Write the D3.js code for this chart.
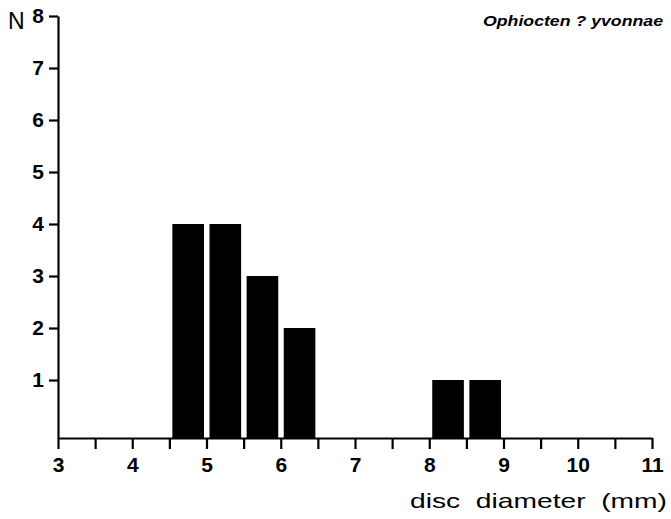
<!DOCTYPE html>
<html><head><meta charset="utf-8">
<script src="https://cdn.jsdelivr.net/npm/d3@7"></script>
<style>body{margin:0;background:#fff}svg{display:block}</style>
</head><body>
<script>
const binLow = [4.5, 5.0, 5.5, 6.0, 8.0, 8.5];
const binHigh = [5.0, 5.5, 6.0, 6.5, 8.5, 9.0];
const counts = [4, 4, 3, 2, 1, 1];
const xTickLabels = [3, 4, 5, 6, 7, 8, 9, 10, 11];
const xMinorTicks = d3.range(3, 11.01, 0.5);
const yTickLabels = [1, 2, 3, 4, 5, 6, 7, 8];
const title = "Ophiocten ? yvonnae";
const xTitle = "disc\u00a0\u00a0diameter\u00a0\u00a0(mm)";
const yTitle = "N";

const W = 671, H = 519;
const svg = d3.select("body").append("svg").attr("width", W).attr("height", H);
const x = d3.scaleLinear().domain([3, 11]).range([58, 652]);
const y = d3.scaleLinear().domain([-0.115, 8]).range([438, 16]);
const base = y.range()[0];
const font = "'Liberation Sans', Arial, sans-serif";

// bars
svg.selectAll("rect.bar").data(counts).enter().append("rect")
  .attr("x", (d, i) => x(binLow[i]) + 3)
  .attr("width", (d, i) => x(binHigh[i]) - x(binLow[i]) - 5.5)
  .attr("y", d => y(d))
  .attr("height", d => base - y(d))
  .attr("fill", "#000");

// x axis
const xAxis = svg.append("g").attr("transform", `translate(0,${base})`)
  .call(d3.axisBottom(x).tickValues(xMinorTicks).tickSize(11).tickSizeOuter(0)
    .tickFormat(d => xTickLabels.includes(d) ? d : ""));
xAxis.select(".domain").attr("stroke-width", 2.2);
xAxis.selectAll(".tick line").attr("stroke-width", 2.2);
xAxis.selectAll("text").attr("font-family", font).attr("font-size", 21).attr("font-weight", "bold")
  .attr("fill", "#000").attr("dy", null).attr("y", 34);

// y axis
const yAxis = svg.append("g").attr("transform", `translate(${x(3)},0)`)
  .call(d3.axisLeft(y).tickValues(yTickLabels).tickSize(9).tickSizeOuter(0).tickPadding(5));
yAxis.select(".domain").attr("stroke-width", 2.2);
yAxis.selectAll(".tick line").attr("stroke-width", 2.2);
yAxis.selectAll("text").attr("font-family", font).attr("font-size", 21).attr("font-weight", "bold").attr("fill", "#000");

// axis labels
svg.append("text").attr("x", 8).attr("y", 29).text(yTitle)
  .attr("font-family", font).attr("font-size", 23).attr("fill", "#000");
svg.append("text").attr("x", 410).attr("y", 508).text(xTitle)
  .attr("textLength", 257).attr("lengthAdjust", "spacingAndGlyphs")
  .attr("font-family", font).attr("font-size", 21).attr("fill", "#000");
svg.append("text").attr("x", 483).attr("y", 25.5).text(title)
  .attr("textLength", 180).attr("lengthAdjust", "spacingAndGlyphs")
  .attr("font-family", font).attr("font-size", 14).attr("font-weight", "bold").attr("font-style", "italic").attr("fill", "#000");
</script>
</body></html>
